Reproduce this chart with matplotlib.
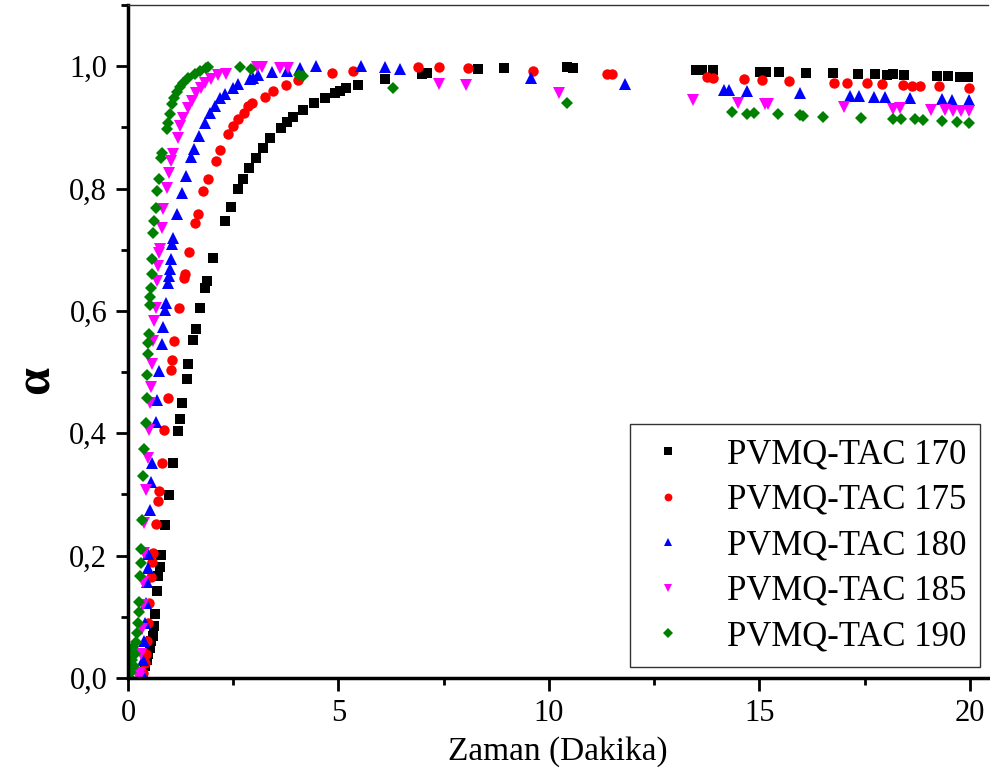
import numpy as np
import matplotlib
matplotlib.use('Agg')
import matplotlib.pyplot as plt
from matplotlib.ticker import MultipleLocator, FuncFormatter

plt.rcParams['font.family'] = ['Liberation Serif', 'DejaVu Serif']

# PVMQ-TAC 170 (black squares)
t170 = [0.33, 0.36, 0.40, 0.45, 0.48, 0.52, 0.55, 0.59, 0.62, 0.64, 0.69, 0.71, 0.76, 0.78,
        0.88, 0.97, 1.07, 1.19, 1.24, 1.28, 1.40, 1.43, 1.54, 1.62, 1.71, 1.83, 1.88,
        2.02, 2.30, 2.45, 2.61, 2.73, 2.87, 3.04, 3.21, 3.37, 3.63, 3.78, 3.92, 4.16,
        4.42, 4.68, 4.92, 5.04, 5.18, 5.46, 6.10, 6.98, 7.10, 8.31, 8.93, 10.43, 10.57,
        13.49, 13.63, 13.90, 15.01, 15.15, 15.46, 16.10, 16.75, 17.34, 17.74, 18.03,
        18.17, 18.43, 19.22, 19.48, 19.76, 19.95]
a170 = [0.000, 0.008, 0.020, 0.029, 0.040, 0.049, 0.060, 0.069, 0.085, 0.104, 0.142,
        0.166, 0.181, 0.201, 0.250, 0.299, 0.351, 0.403, 0.423, 0.450, 0.489, 0.514,
        0.553, 0.571, 0.604, 0.638, 0.649, 0.687, 0.747, 0.770, 0.799, 0.816, 0.834,
        0.850, 0.866, 0.883, 0.899, 0.909, 0.917, 0.928, 0.940, 0.948, 0.956, 0.959,
        0.964, 0.969, 0.979, 0.987, 0.989, 0.995, 0.997, 0.998, 0.997, 0.993, 0.993,
        0.993, 0.990, 0.990, 0.990, 0.989, 0.989, 0.987, 0.987, 0.985, 0.987, 0.985,
        0.984, 0.984, 0.982, 0.982]

# PVMQ-TAC 175 (red circles)
t175 = [0.33, 0.36, 0.40, 0.42, 0.46, 0.48, 0.50, 0.55, 0.57, 0.59, 0.67, 0.71, 0.74,
        0.81, 0.86, 0.95, 1.02, 1.05, 1.09, 1.21, 1.33, 1.35, 1.45, 1.59, 1.66, 1.78,
        1.90, 2.09, 2.19, 2.38, 2.49, 2.61, 2.76, 2.85, 2.95, 3.25, 3.44, 3.75, 4.04,
        4.85, 5.34, 6.89, 7.39, 8.08, 9.62, 11.38, 11.50, 13.75, 13.90, 14.63, 15.06,
        15.70, 16.77, 17.08, 17.55, 17.91, 18.41, 18.62, 18.81, 19.26, 19.98]
a175 = [0.000, 0.008, 0.025, 0.040, 0.060, 0.090, 0.122, 0.165, 0.189, 0.204, 0.251,
        0.290, 0.305, 0.351, 0.405, 0.458, 0.504, 0.520, 0.550, 0.605, 0.654, 0.661,
        0.697, 0.744, 0.759, 0.796, 0.816, 0.845, 0.863, 0.889, 0.902, 0.914, 0.923,
        0.935, 0.940, 0.949, 0.959, 0.969, 0.977, 0.989, 0.992, 0.998, 0.998, 0.997,
        0.992, 0.987, 0.987, 0.982, 0.980, 0.979, 0.977, 0.976, 0.972, 0.972, 0.972,
        0.971, 0.969, 0.967, 0.967, 0.967, 0.964]

# PVMQ-TAC 180 (blue up-triangles)
t180 = [0.31, 0.33, 0.36, 0.38, 0.40, 0.42, 0.45, 0.47, 0.48, 0.52, 0.55, 0.57, 0.67,
        0.69, 0.74, 0.81, 0.83, 0.88, 0.90, 0.95, 0.97, 1.00, 1.02, 1.05, 1.07, 1.16,
        1.28, 1.38, 1.50, 1.57, 1.69, 1.83, 1.95, 2.07, 2.19, 2.30, 2.49, 2.61, 2.90,
        2.97, 3.09, 3.42, 3.78, 4.09, 4.47, 5.53, 6.10, 6.46, 9.57, 11.81, 14.16,
        14.28, 14.70, 15.96, 17.15, 17.36, 17.72, 17.98, 18.57, 19.33, 19.57, 19.98]
a180 = [0.000, 0.008, 0.030, 0.060, 0.090, 0.122, 0.157, 0.179, 0.202, 0.274, 0.320,
        0.352, 0.418, 0.454, 0.502, 0.546, 0.574, 0.602, 0.613, 0.646, 0.657, 0.669,
        0.685, 0.710, 0.719, 0.759, 0.793, 0.821, 0.852, 0.865, 0.886, 0.907, 0.923,
        0.935, 0.948, 0.954, 0.964, 0.971, 0.979, 0.980, 0.985, 0.990, 0.992, 0.997,
        1.000, 1.000, 0.998, 0.995, 0.980, 0.971, 0.961, 0.961, 0.959, 0.956, 0.951,
        0.951, 0.949, 0.949, 0.948, 0.946, 0.945, 0.945]

# PVMQ-TAC 185 (magenta down-triangles)
t185 = [0.27, 0.29, 0.31, 0.33, 0.35, 0.36, 0.37, 0.38, 0.43, 0.48, 0.50, 0.52, 0.55,
        0.57, 0.60, 0.62, 0.67, 0.69, 0.71, 0.74, 0.76, 0.81, 0.83, 0.93, 0.97, 1.02,
        1.07, 1.19, 1.24, 1.31, 1.43, 1.52, 1.62, 1.73, 1.83, 1.97, 2.14, 2.33, 3.06,
        3.18, 3.61, 3.80, 7.39, 8.03, 10.24, 13.42, 14.49, 15.13, 15.20, 17.01, 18.17,
        18.34, 19.07, 19.41, 19.60, 19.79, 19.98]
a185 = [0.000, 0.008, 0.040, 0.080, 0.120, 0.157, 0.204, 0.254, 0.307, 0.359, 0.405,
        0.449, 0.475, 0.514, 0.551, 0.584, 0.605, 0.649, 0.674, 0.695, 0.701, 0.736,
        0.767, 0.801, 0.825, 0.845, 0.856, 0.883, 0.902, 0.915, 0.931, 0.943, 0.956,
        0.964, 0.972, 0.979, 0.985, 0.987, 0.998, 0.998, 0.997, 0.997, 0.971, 0.969,
        0.956, 0.945, 0.940, 0.938, 0.938, 0.933, 0.930, 0.931, 0.928, 0.928, 0.927,
        0.927, 0.927]

# PVMQ-TAC 190 (green diamonds)
t190 = [0.04, 0.05, 0.06, 0.08, 0.10, 0.12, 0.14, 0.16, 0.19, 0.21, 0.24, 0.26, 0.26,
        0.29, 0.31, 0.31, 0.33, 0.36, 0.38, 0.43, 0.45, 0.45, 0.48, 0.48, 0.50, 0.52,
        0.52, 0.55, 0.57, 0.57, 0.59, 0.62, 0.67, 0.69, 0.74, 0.78, 0.81, 0.93, 0.95,
        1.00, 1.05, 1.09, 1.16, 1.24, 1.31, 1.43, 1.59, 1.71, 1.85, 1.90, 2.66, 2.92,
        4.06, 4.16, 6.29, 10.43, 14.35, 14.70, 14.87, 15.44, 15.96, 16.03, 16.51,
        17.41, 18.17, 18.36, 18.69, 18.88, 19.33, 19.69, 19.98]
a190 = [0.000, 0.020, 0.045, 0.010, 0.030, 0.050, 0.020, 0.040, 0.059, 0.073, 0.090,
        0.108, 0.124, 0.166, 0.188, 0.210, 0.258, 0.330, 0.375, 0.416, 0.458, 0.496,
        0.530, 0.548, 0.563, 0.610, 0.622, 0.638, 0.661, 0.685, 0.728, 0.747, 0.768,
        0.796, 0.816, 0.850, 0.858, 0.897, 0.907, 0.922, 0.938, 0.948, 0.958, 0.966,
        0.972, 0.980, 0.987, 0.992, 0.997, 0.998, 0.998, 0.995, 0.985, 0.984, 0.964,
        0.940, 0.925, 0.922, 0.923, 0.922, 0.920, 0.918, 0.917, 0.915, 0.914, 0.914,
        0.914, 0.912, 0.910, 0.909, 0.907]

series = [
    (t170, a170, 'PVMQ-TAC 170', 'black', 's', 7.0),
    (t175, a175, 'PVMQ-TAC 175', '#ff0000', 'o', 7.5),
    (t180, a180, 'PVMQ-TAC 180', '#0000ff', '^', 8.0),
    (t185, a185, 'PVMQ-TAC 185', '#ff00ff', 'v', 8.0),
    (t190, a190, 'PVMQ-TAC 190', '#008000', 'D', 6.5),
]

fig = plt.figure(figsize=(9.9, 7.8), dpi=100)
ax = fig.add_axes([0.1293, 0.1308, 0.8687, 0.8628])

for t, a, lab, col, mk, ms in series:
    ax.plot(t, a, linestyle='none', marker=mk, color=col, markersize=ms,
            markeredgewidth=0, label=lab)

ax.set_xlim(0, 20.43)
ax.set_ylim(0, 1.1)
ax.xaxis.set_major_locator(MultipleLocator(5))
ax.xaxis.set_minor_locator(MultipleLocator(2.5))
ax.yaxis.set_major_locator(MultipleLocator(0.2))
ax.yaxis.set_minor_locator(MultipleLocator(0.1))
ax.yaxis.set_major_formatter(FuncFormatter(lambda v, p: f'{v:.1f}'.replace('.', ',')))
ax.xaxis.set_major_formatter(FuncFormatter(lambda v, p: f'{v:g}'))

ax.tick_params(axis='both', which='major', direction='out', length=9, width=2,
               labelsize=22, pad=6)
ax.tick_params(axis='both', which='minor', direction='out', length=5, width=2)

for s in ['left', 'bottom']:
    ax.spines[s].set_linewidth(2.5)
ax.spines['top'].set_linewidth(1.0)
ax.spines['top'].set_color('#333333')
ax.spines['right'].set_visible(False)

ax.set_xlabel('Zaman (Dakika)', fontsize=24, labelpad=6)
ax.set_ylabel('α', fontsize=36, fontweight='bold')
ax.yaxis.set_label_coords(-0.079, 0.443)

leg = ax.legend(loc='lower right', bbox_to_anchor=(0.991, 0.016), borderaxespad=0,
                fontsize=25, markerscale=0.75, fancybox=False, edgecolor='#333333',
                framealpha=1, handlelength=1.4, handletextpad=1.0, labelspacing=0.36,
                borderpad=0.4)
leg.get_frame().set_linewidth(1.0)

fig.savefig('out.png', dpi=100)
